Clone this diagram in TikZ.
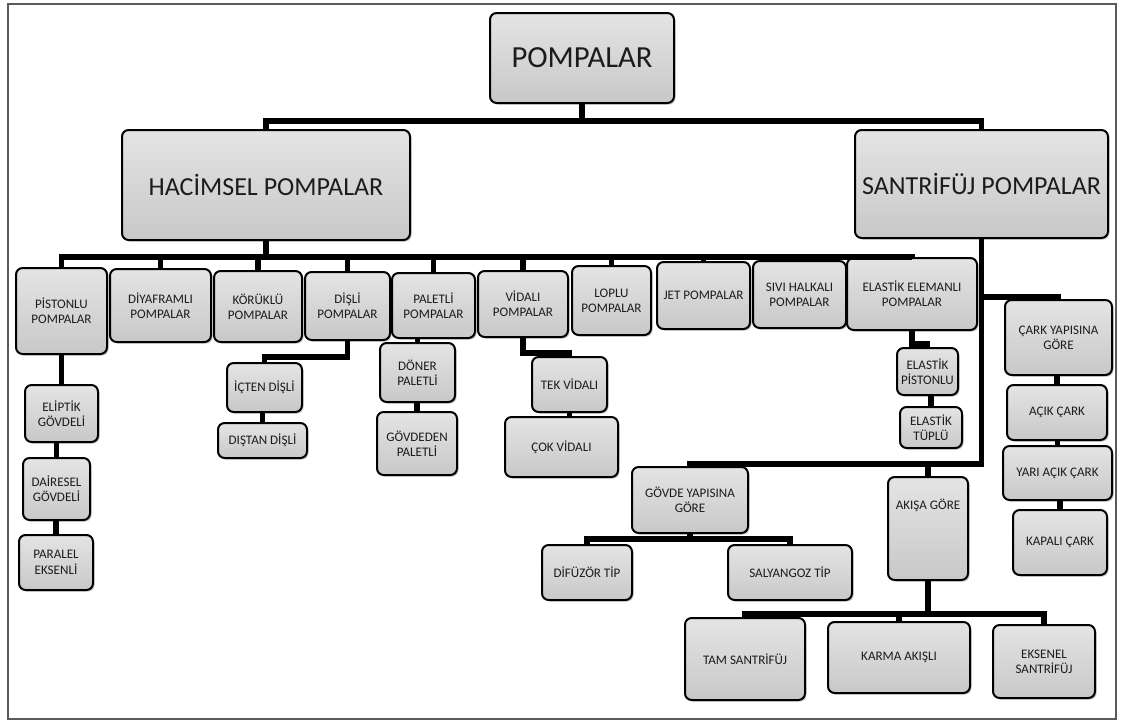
\documentclass[tikz,border=0pt]{standalone}
\usepackage{fontspec}
\setmainfont{Carlito}
\usetikzlibrary{shadows}
\definecolor{boxtop}{RGB}{228,228,228}
\definecolor{boxbot}{RGB}{200,200,200}
\definecolor{txt}{RGB}{28,28,28}
\definecolor{framec}{RGB}{90,90,90}
\tikzset{
  pb/.style={draw=black, line width=1.5pt, rounded corners=5pt,
    top color=boxtop, bottom color=boxbot, text=txt, align=center,
    inner sep=2pt, outer sep=0pt, font=\fontsize{9.8}{11.5}\selectfont,
    drop shadow={shadow xshift=1.2pt,shadow yshift=-1.2pt,opacity=0.45}},
  midf/.style={font=\fontsize{19.5}{22}\selectfont},
  topf/.style={font=\fontsize{23}{26}\selectfont},
  conn/.style={line width=3.8pt, black},
}
\newcommand\pbox[7][]{%
  \node[pb,#1,minimum width={(#4-#2)*0.75pt},minimum height={(#5-#3)*0.75pt}] (#6) at ({(#2+#4)/2},{(#3+#5)/2}) {#7};}
\begin{document}
\begin{tikzpicture}[x=0.75pt,y=-0.75pt]
\useasboundingbox (0,0) rectangle (1121,722);
\draw[framec, line width=1.2pt] (8,4) rectangle (1116,719);
% boxes
\pbox[topf]{490}{13}{674}{103}{pomp}{POMPALAR}
\pbox[midf]{122}{130}{410}{240}{hac}{HACİMSEL POMPALAR}
\pbox[midf]{855}{130}{1108}{238}{san}{SANTRİFÜJ POMPALAR}
\pbox{16}{268}{107}{354}{pis}{PİSTONLU\\POMPALAR}
\pbox{110}{269}{211}{342}{diy}{DİYAFRAMLI\\POMPALAR}
\pbox{214}{271}{302}{342}{kor}{KÖRÜKLÜ\\POMPALAR}
\pbox{305}{272}{390}{340}{dis}{DİŞLİ\\POMPALAR}
\pbox{392}{273}{475}{338}{pal}{PALETLİ\\POMPALAR}
\pbox{478}{271}{568}{337}{vid}{VİDALI\\POMPALAR}
\pbox{572}{266}{651}{335}{lop}{LOPLU\\POMPALAR}
\pbox{657}{262}{750}{329}{jet}{JET POMPALAR}
\pbox{753}{261}{846}{328}{siv}{SIVI HALKALI\\POMPALAR}
\pbox{847}{258}{977}{330}{ela}{ELASTİK ELEMANLI\\POMPALAR}
\pbox{25}{385}{98}{442}{eli}{ELİPTİK\\GÖVDELİ}
\pbox{23}{458}{90}{520}{dai}{DAİRESEL\\GÖVDELİ}
\pbox{19}{535}{93}{590}{par}{PARALEL\\EKSENLİ}
\pbox{227}{363}{302}{412}{ict}{İÇTEN DİŞLİ}
\pbox{218}{423}{307}{458}{dst}{DIŞTAN DİŞLİ}
\pbox{380}{343}{455}{402}{don}{DÖNER\\PALETLİ}
\pbox{377}{412}{457}{475}{gvd}{GÖVDEDEN\\PALETLİ}
\pbox{532}{357}{607}{412}{tek}{TEK VİDALI}
\pbox{505}{417}{618}{477}{cok}{ÇOK VİDALI}
\pbox{897}{348}{958}{395}{elp}{ELASTİK\\PİSTONLU}
\pbox{900}{407}{962}{448}{elt}{ELASTİK\\TÜPLÜ}
\pbox{1005}{300}{1112}{375}{crk}{ÇARK YAPISINA\\GÖRE}
\pbox{1007}{385}{1107}{440}{acik}{AÇIK ÇARK}
\pbox{1003}{446}{1112}{500}{yari}{YARI AÇIK ÇARK}
\pbox{1013}{510}{1107}{575}{kap}{KAPALI ÇARK}
\pbox{632}{467}{748}{533}{gov}{GÖVDE YAPISINA\\GÖRE}
\pbox{888}{477}{968}{580}{akis}{AKIŞA GÖRE\\[2.2em]\strut}
\pbox{542}{545}{632}{600}{dif}{DİFÜZÖR TİP}
\pbox{728}{545}{852}{600}{sal}{SALYANGOZ TİP}
\pbox{685}{618}{805}{700}{tam}{TAM SANTRİFÜJ}
\pbox{828}{622}{970}{693}{kar}{KARMA AKIŞLI}
\pbox{993}{625}{1095}{698}{eks}{EKSENEL\\SANTRİFÜJ}
% bus levels
\coordinate (b0) at (0,121);
\coordinate (b1) at (0,257);
\coordinate (b2) at (0,357);
\coordinate (b3) at (0,353);
\coordinate (b4) at (0,344);
\coordinate (b5) at (0,297);
\coordinate (b6) at (0,464);
\coordinate (b7) at (0,539);
\coordinate (b8) at (0,614);
% connectors
\foreach \c in {hac,san} \draw[conn] (pomp.south) |- (b0 -| \c.north) -- (\c.north);
\foreach \c in {pis,diy,kor,dis,pal,vid,lop,jet,siv,ela} \draw[conn] (hac.south) |- (b1 -| \c.north) -- (\c.north);
\draw[conn] (eli.north) -- (eli.north |- pis.south);
\draw[conn] (dai.north) -- (dai.north |- eli.south);
\draw[conn] (par.north) -- (par.north |- dai.south);
\draw[conn] (dis.south) |- (b2 -| ict.north) -- (ict.north);
\draw[conn] (dst.north) -- (dst.north |- ict.south);
\draw[conn] (don.north) -- (don.north |- pal.south);
\draw[conn] (gvd.north) -- (gvd.north |- don.south);
\draw[conn] (vid.south) |- (b3 -| tek.north) -- (tek.north);
\draw[conn] (tek.south) -- (tek.south |- cok.north);
\draw[conn] (ela.south) |- (b4 -| elp.north) -- (elp.north);
\draw[conn] (elt.north) -- (elt.north |- elp.south);
\draw[conn] (san.south) |- (b5 -| crk.north) -- (crk.north);
\draw[conn] (acik.north) -- (acik.north |- crk.south);
\draw[conn] (yari.north) -- (yari.north |- acik.south);
\draw[conn] (kap.north) -- (kap.north |- yari.south);
\foreach \c in {gov,akis} \draw[conn] (san.south) |- (b6 -| \c.north) -- (\c.north);
\foreach \c in {dif,sal} \draw[conn] (gov.south) |- (b7 -| \c.north) -- (\c.north);
\foreach \c in {tam,kar,eks} \draw[conn] (akis.south) |- (b8 -| \c.north) -- (\c.north);
\end{tikzpicture}
\end{document}
